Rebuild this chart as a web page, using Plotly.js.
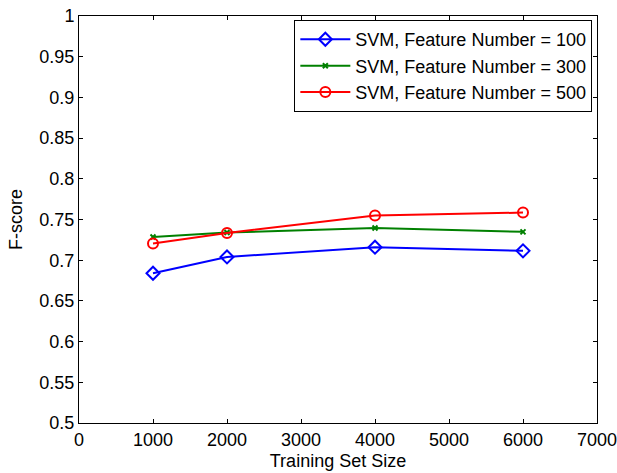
<!DOCTYPE html>
<html><head><meta charset="utf-8">
<script src="https://cdn.plot.ly/plotly-3.0.1.min.js"></script>
<style>html,body{margin:0;padding:0;background:#fff}#chart{width:617px;height:473px}</style>
</head><body><div id="chart"></div>
<script>
const trainingSize = [1000, 2000, 4000, 6000];
const fscore100 = [0.684, 0.704, 0.716, 0.7115];
const fscore300 = [0.7285, 0.734, 0.7395, 0.7348];
const fscore500 = [0.7205, 0.7335, 0.7548, 0.7585];
const seriesNames = ['SVM, Feature Number = 100', 'SVM, Feature Number = 300', 'SVM, Feature Number = 500'];

const traces = [
  {x: trainingSize, y: fscore100, name: seriesNames[0], mode: 'lines+markers',
   line: {color: '#0000ff', width: 2}, marker: {symbol: 'diamond-open', size: 10, color: '#0000ff', line: {width: 2}}},
  {x: trainingSize, y: fscore300, name: seriesNames[1], mode: 'lines+markers',
   line: {color: '#008000', width: 2}, marker: {symbol: 'x-thin-open', size: 5, color: '#008000', line: {width: 2, color: '#008000'}}},
  {x: trainingSize, y: fscore500, name: seriesNames[2], mode: 'lines+markers',
   line: {color: '#ff0000', width: 2}, marker: {symbol: 'circle-open', size: 10, color: '#ff0000', line: {width: 2}}}
];

const fontFam = 'Liberation Sans, Arial, sans-serif';
const axisCommon = {
  showline: true, linecolor: '#000', linewidth: 1, mirror: 'ticks',
  ticks: 'inside', ticklen: 4, tickcolor: '#000', showgrid: false, zeroline: false,
  ticklabeloverflow: 'allow',
  tickfont: {family: fontFam, size: 18, color: '#000'}
};

const layout = {
  width: 617, height: 473,
  margin: {l: 79, r: 20, t: 16, b: 50},
  paper_bgcolor: '#fff', plot_bgcolor: '#fff',
  font: {family: fontFam, size: 18, color: '#000'},
  xaxis: Object.assign({}, axisCommon, {range: [0, 7000], dtick: 1000,
    title: {text: 'Training Set Size', standoff: 5, font: {size: 18}}}),
  yaxis: Object.assign({}, axisCommon, {range: [0.5, 1], dtick: 0.05,
    title: {text: 'F-score', standoff: 12, font: {size: 18}}}),
  showlegend: true,
  legend: {x: 0.991, y: 0.99, xanchor: 'right', yanchor: 'top', bordercolor: '#000', borderwidth: 1,
    bgcolor: '#fff', font: {size: 18}, tracegroupgap: 0, itemwidth: 50}
};

Plotly.newPlot('chart', traces, layout, {displayModeBar: false, staticPlot: true});
</script>
</body></html>
